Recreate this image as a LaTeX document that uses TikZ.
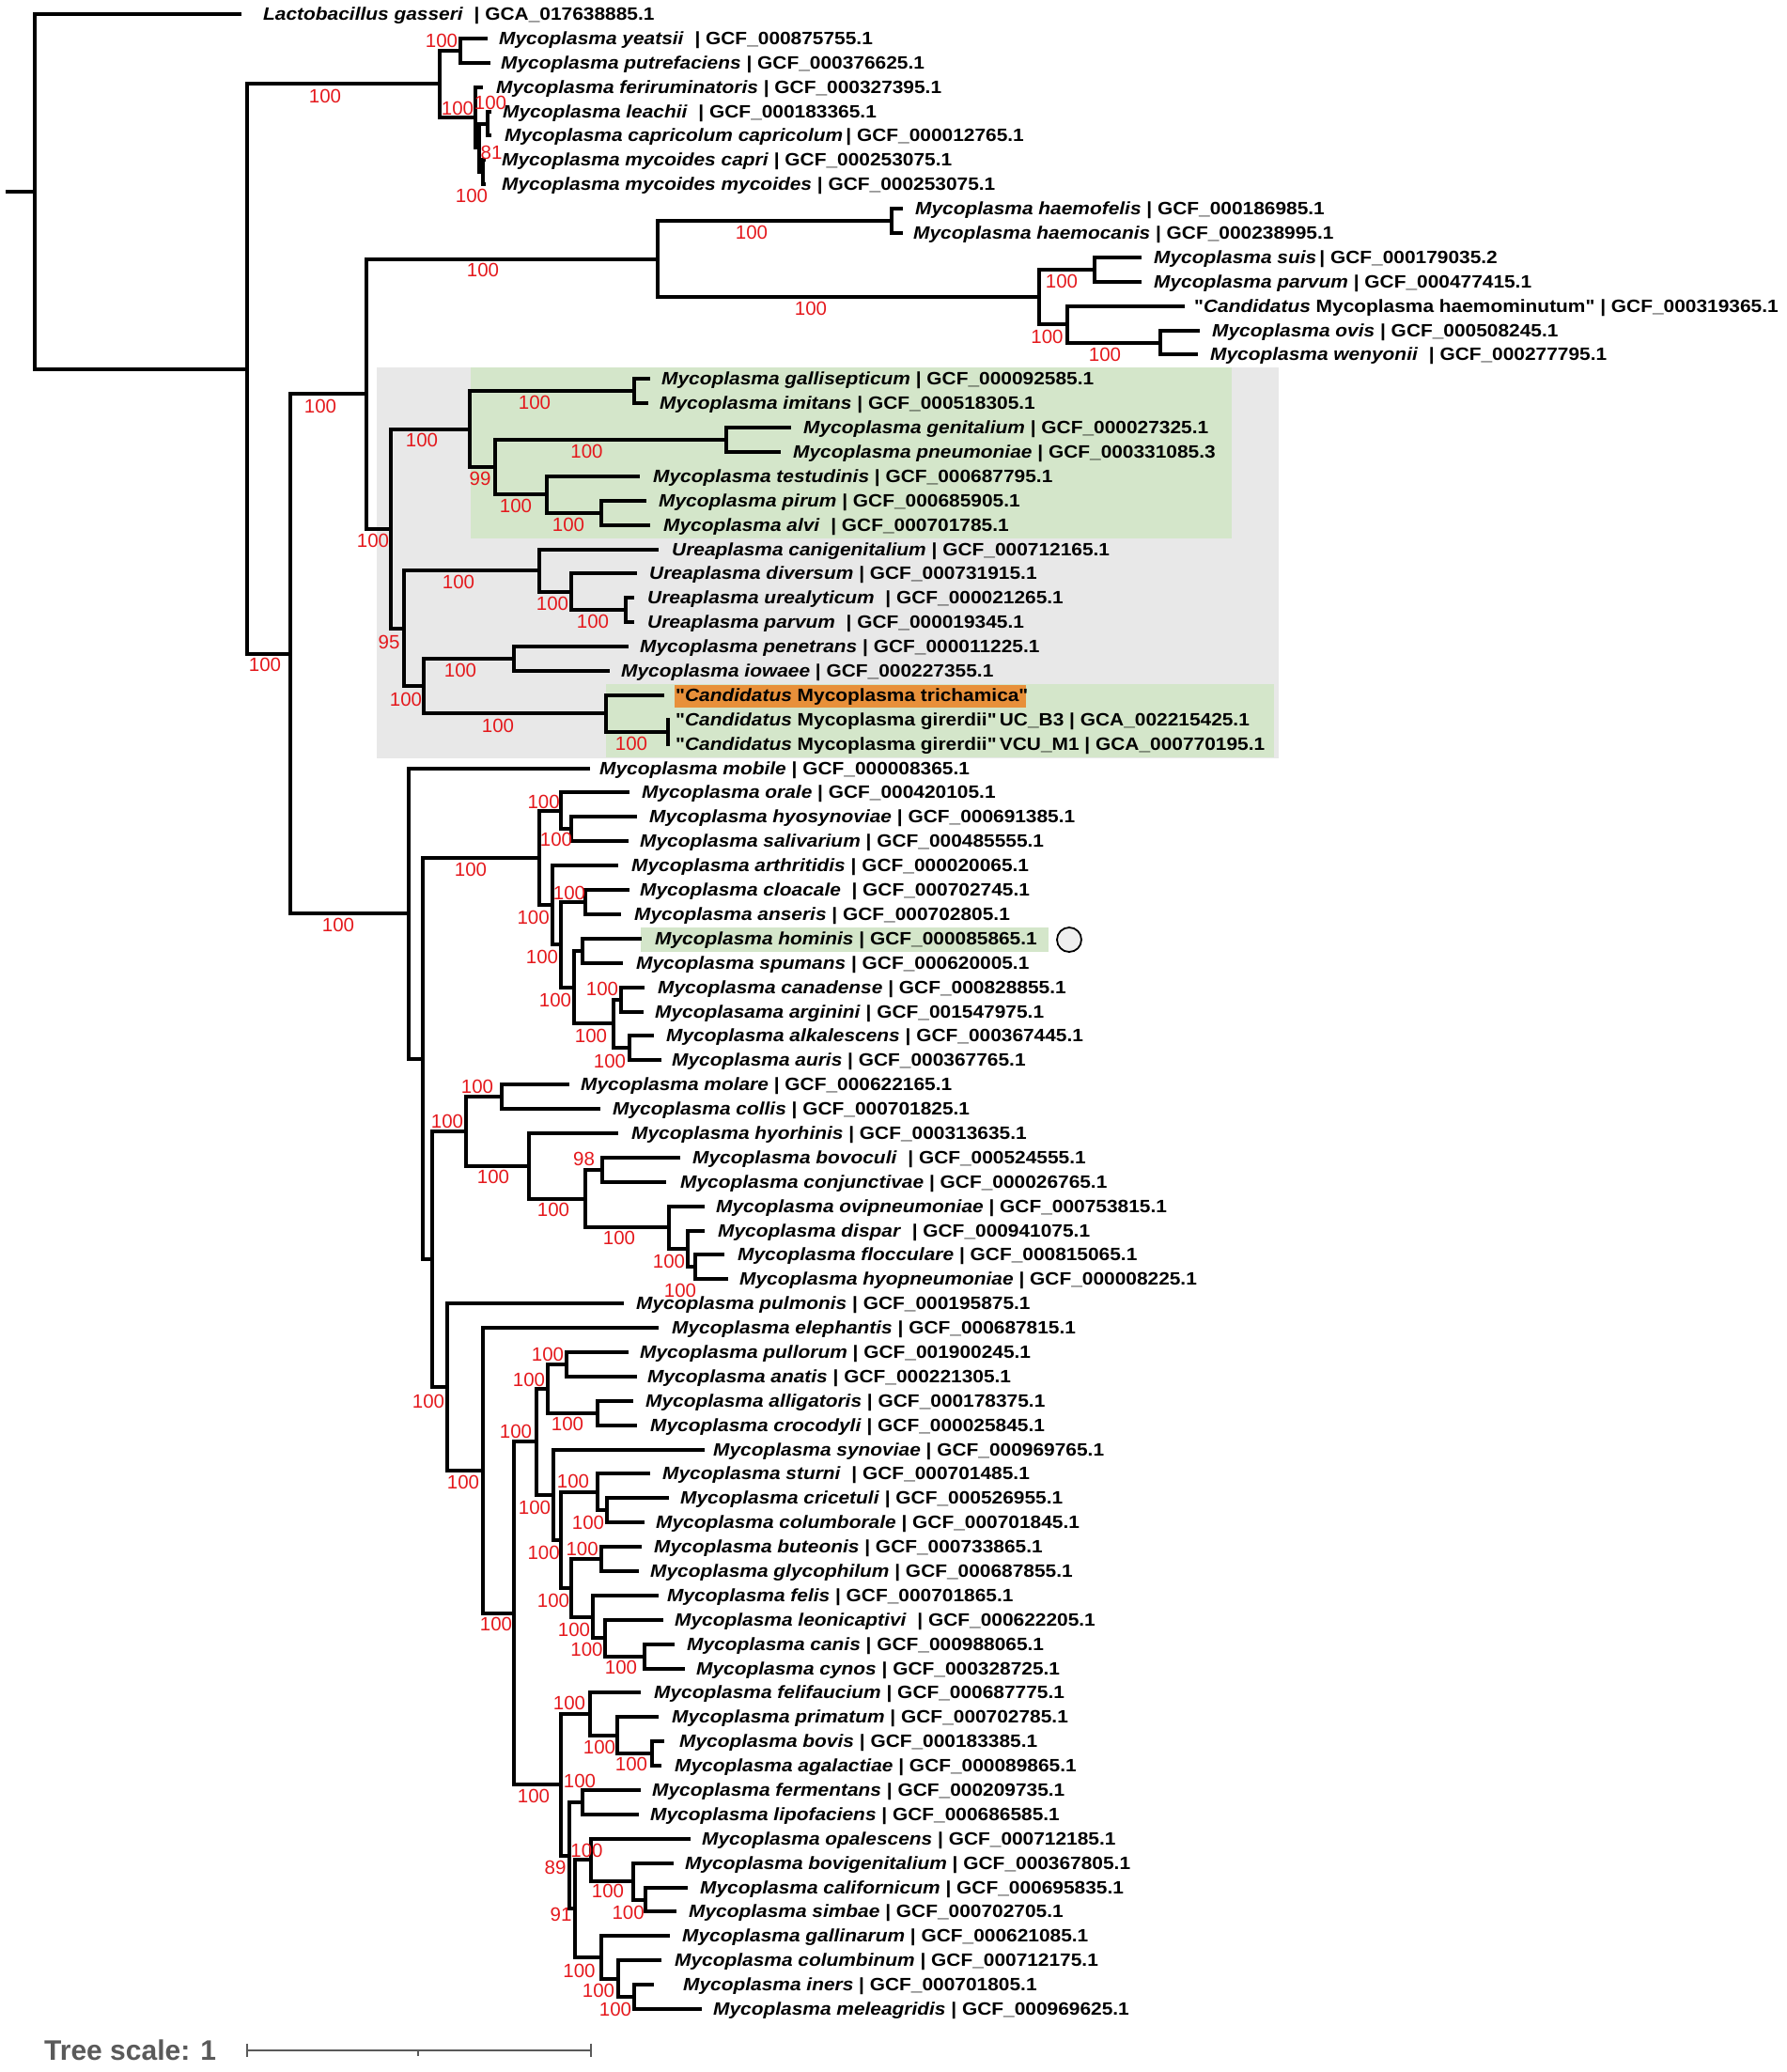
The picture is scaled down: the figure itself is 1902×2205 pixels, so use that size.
\documentclass[tikz,border=0pt]{standalone}
\usepackage{fontspec}
\setmainfont{Liberation Sans}
\newfontfamily\lf[FakeStretch=1.1]{Liberation Sans}
\usetikzlibrary{calc}
\definecolor{boxgray}{RGB}{232,232,232}
\definecolor{boxgreen}{RGB}{212,230,202}
\definecolor{boxorange}{RGB}{232,144,58}
\definecolor{bsred}{RGB}{228,24,28}
\definecolor{scgray}{RGB}{90,90,90}
\newcommand\nm[1]{\textit{#1}}
\newcommand\leaf[4]{%
  \coordinate (t#1) at (#2,{15+(#1-1)*25.89});
  \node[lab] (L#1) at (#3,{21.5+(#1-1)*25.89}) {#4};}
\newcommand\inode[4]{%
  \coordinate (tmp) at ($(#3)!0.5!(#4)$);
  \coordinate (#1) at (#2,0 |- tmp);
  \draw[br] (#1) |- (#3);
  \draw[br] (#1) |- (#4);}
\tikzset{
  br/.style={line width=4pt,black},
  lab/.style={anchor=base west,inner sep=0pt,font=\lf\bfseries\fontsize{19}{19}\selectfont},
  bsl/.style={inner sep=0pt,text=bsred,font=\fontsize{20.5}{20.5}\selectfont},
}
\begin{document}
\begin{tikzpicture}[x=1pt,y=-1pt]
\useasboundingbox (0,0) rectangle (1902,2205);
% highlight boxes
\fill[boxgray] (401,390.5) rectangle (1361,806.5);
\fill[boxgreen] (501,390.5) rectangle (1310.5,572.7);
\fill[boxgreen] (645,728.3) rectangle (1356.4,806);
\fill[boxorange] (718,729) rectangle (1092,753.3);
\fill[boxgreen] (681.5,986.7) rectangle (1116,1012.7);
\node[circle,draw=black,line width=1.8pt,fill=boxgray!70,minimum size=26pt,inner sep=0pt] (circ) at (1138,1000) {};
% leaves
\leaf{1}{257}{280}{\nm{Lactobacillus gasseri}\ \ | GCA\_017638885.1}
\leaf{2}{519}{531}{\nm{Mycoplasma yeatsii}\ \ | GCF\_000875755.1}
\leaf{3}{522}{533}{\nm{Mycoplasma putrefaciens} | GCF\_000376625.1}
\leaf{4}{514}{528}{\nm{Mycoplasma feriruminatoris} | GCF\_000327395.1}
\leaf{5}{523}{535}{\nm{Mycoplasma leachii}\ \ | GCF\_000183365.1}
\leaf{6}{523}{537}{\nm{Mycoplasma capricolum capricolum}\,| GCF\_000012765.1}
\leaf{7}{517}{534}{\nm{Mycoplasma mycoides capri} | GCF\_000253075.1}
\leaf{8}{517}{534}{\nm{Mycoplasma mycoides mycoides} | GCF\_000253075.1}
\leaf{9}{961}{974}{\nm{Mycoplasma haemofelis} | GCF\_000186985.1}
\leaf{10}{961}{972}{\nm{Mycoplasma haemocanis} | GCF\_000238995.1}
\leaf{11}{1215}{1228}{\nm{Mycoplasma suis}\,| GCF\_000179035.2}
\leaf{12}{1215}{1228}{\nm{Mycoplasma parvum} | GCF\_000477415.1}
\leaf{13}{1261}{1271}{"\nm{Candidatus} Mycoplasma haemominutum" | GCF\_000319365.1}
\leaf{14}{1277}{1290}{\nm{Mycoplasma ovis} | GCF\_000508245.1}
\leaf{15}{1275}{1288}{\nm{Mycoplasma wenyonii}\ \ | GCF\_000277795.1}
\leaf{16}{692}{704}{\nm{Mycoplasma gallisepticum} | GCF\_000092585.1}
\leaf{17}{690}{702}{\nm{Mycoplasma imitans} | GCF\_000518305.1}
\leaf{18}{842}{855}{\nm{Mycoplasma genitalium} | GCF\_000027325.1}
\leaf{19}{831}{844}{\nm{Mycoplasma pneumoniae} | GCF\_000331085.3}
\leaf{20}{681}{695}{\nm{Mycoplasma testudinis} | GCF\_000687795.1}
\leaf{21}{688}{701}{\nm{Mycoplasma pirum} | GCF\_000685905.1}
\leaf{22}{692}{706}{\nm{Mycoplasma alvi}\ \ | GCF\_000701785.1}
\leaf{23}{701}{715}{\nm{Ureaplasma canigenitalium} | GCF\_000712165.1}
\leaf{24}{678}{691}{\nm{Ureaplasma diversum} | GCF\_000731915.1}
\leaf{25}{675}{689}{\nm{Ureaplasma urealyticum}\ \ | GCF\_000021265.1}
\leaf{26}{675}{689}{\nm{Ureaplasma parvum}\ \ | GCF\_000019345.1}
\leaf{27}{669}{681}{\nm{Mycoplasma penetrans} | GCF\_000011225.1}
\leaf{28}{649}{661}{\nm{Mycoplasma iowaee} | GCF\_000227355.1}
\leaf{29}{707}{719}{"\nm{Candidatus} Mycoplasma trichamica"}
\leaf{30}{713}{719}{"\nm{Candidatus} Mycoplasma girerdii"\,UC\_B3 | GCA\_002215425.1}
\leaf{31}{713}{719}{"\nm{Candidatus} Mycoplasma girerdii"\,VCU\_M1 | GCA\_000770195.1}
\leaf{32}{628}{638}{\nm{Mycoplasma mobile} | GCF\_000008365.1}
\leaf{33}{670}{683}{\nm{Mycoplasma orale} | GCF\_000420105.1}
\leaf{34}{678}{691}{\nm{Mycoplasma hyosynoviae} | GCF\_000691385.1}
\leaf{35}{669}{681}{\nm{Mycoplasma salivarium} | GCF\_000485555.1}
\leaf{36}{658}{672}{\nm{Mycoplasma arthritidis} | GCF\_000020065.1}
\leaf{37}{670}{681}{\nm{Mycoplasma cloacale}\ \ | GCF\_000702745.1}
\leaf{38}{661}{675}{\nm{Mycoplasma anseris} | GCF\_000702805.1}
\leaf{39}{683}{697}{\nm{Mycoplasma hominis} | GCF\_000085865.1}
\leaf{40}{663}{677}{\nm{Mycoplasma spumans} | GCF\_000620005.1}
\leaf{41}{686}{700}{\nm{Mycoplasma canadense} | GCF\_000828855.1}
\leaf{42}{685}{697}{\nm{Mycoplasama arginini} | GCF\_001547975.1}
\leaf{43}{696}{709}{\nm{Mycoplasma alkalescens} | GCF\_000367445.1}
\leaf{44}{704}{715}{\nm{Mycoplasma auris} | GCF\_000367765.1}
\leaf{45}{606}{618}{\nm{Mycoplasma molare} | GCF\_000622165.1}
\leaf{46}{639}{652}{\nm{Mycoplasma collis} | GCF\_000701825.1}
\leaf{47}{658}{672}{\nm{Mycoplasma hyorhinis} | GCF\_000313635.1}
\leaf{48}{724}{737}{\nm{Mycoplasma bovoculi}\ \ | GCF\_000524555.1}
\leaf{49}{709}{724}{\nm{Mycoplasma conjunctivae} | GCF\_000026765.1}
\leaf{50}{750}{762}{\nm{Mycoplasma ovipneumoniae} | GCF\_000753815.1}
\leaf{51}{750}{764}{\nm{Mycoplasma dispar}\ \ | GCF\_000941075.1}
\leaf{52}{771}{785}{\nm{Mycoplasma flocculare} | GCF\_000815065.1}
\leaf{53}{775}{787}{\nm{Mycoplasma hyopneumoniae} | GCF\_000008225.1}
\leaf{54}{664}{677}{\nm{Mycoplasma pulmonis} | GCF\_000195875.1}
\leaf{55}{701}{715}{\nm{Mycoplasma elephantis} | GCF\_000687815.1}
\leaf{56}{669}{681}{\nm{Mycoplasma pullorum} | GCF\_001900245.1}
\leaf{57}{678}{689}{\nm{Mycoplasma anatis} | GCF\_000221305.1}
\leaf{58}{674}{687}{\nm{Mycoplasma alligatoris} | GCF\_000178375.1}
\leaf{59}{678}{692}{\nm{Mycoplasma crocodyli} | GCF\_000025845.1}
\leaf{60}{750}{759}{\nm{Mycoplasma synoviae} | GCF\_000969765.1}
\leaf{61}{692}{705}{\nm{Mycoplasma sturni}\ \ | GCF\_000701485.1}
\leaf{62}{712}{724}{\nm{Mycoplasma cricetuli} | GCF\_000526955.1}
\leaf{63}{686}{698}{\nm{Mycoplasma columborale} | GCF\_000701845.1}
\leaf{64}{683}{696}{\nm{Mycoplasma buteonis} | GCF\_000733865.1}
\leaf{65}{680}{692}{\nm{Mycoplasma glycophilum} | GCF\_000687855.1}
\leaf{66}{701}{710}{\nm{Mycoplasma felis} | GCF\_000701865.1}
\leaf{67}{706}{718}{\nm{Mycoplasma leonicaptivi}\ \ | GCF\_000622205.1}
\leaf{68}{718}{731}{\nm{Mycoplasma canis} | GCF\_000988065.1}
\leaf{69}{729}{741}{\nm{Mycoplasma cynos} | GCF\_000328725.1}
\leaf{70}{682}{696}{\nm{Mycoplasma felifaucium} | GCF\_000687775.1}
\leaf{71}{701}{715}{\nm{Mycoplasma primatum} | GCF\_000702785.1}
\leaf{72}{707}{723}{\nm{Mycoplasma bovis} | GCF\_000183385.1}
\leaf{73}{704}{718}{\nm{Mycoplasma agalactiae} | GCF\_000089865.1}
\leaf{74}{682}{694}{\nm{Mycoplasma fermentans} | GCF\_000209735.1}
\leaf{75}{680}{692}{\nm{Mycoplasma lipofaciens} | GCF\_000686585.1}
\leaf{76}{735}{747}{\nm{Mycoplasma opalescens} | GCF\_000712185.1}
\leaf{77}{717}{729}{\nm{Mycoplasma bovigenitalium} | GCF\_000367805.1}
\leaf{78}{732}{745}{\nm{Mycoplasma californicum} | GCF\_000695835.1}
\leaf{79}{720}{733}{\nm{Mycoplasma simbae} | GCF\_000702705.1}
\leaf{80}{713}{726}{\nm{Mycoplasma gallinarum} | GCF\_000621085.1}
\leaf{81}{704}{718}{\nm{Mycoplasma columbinum} | GCF\_000712175.1}
\leaf{82}{696}{727}{\nm{Mycoplasma iners} | GCF\_000701805.1}
\leaf{83}{747}{759}{\nm{Mycoplasma meleagridis} | GCF\_000969625.1}
% internal nodes
\inode{nYP}{490}{t2}{t3}
\inode{nE}{519}{t5}{t6}
\inode{nF}{514}{t7}{t8}
\inode{nD}{510}{nE}{nF}
\inode{nC}{506}{t4}{nD}
\inode{nB}{468}{nYP}{nC}
\inode{nK}{949}{t9}{t10}
\inode{nM}{1165}{t11}{t12}
\inode{nO}{1235}{t14}{t15}
\inode{nN}{1136}{t13}{nO}
\inode{nL}{1106}{nM}{nN}
\inode{nI}{700}{nK}{nL}
\inode{nR}{675}{t16}{t17}
\inode{nT}{773}{t18}{t19}
\inode{nV}{640}{t21}{t22}
\inode{nU}{582}{t20}{nV}
\inode{nS}{527}{nT}{nU}
\inode{nP}{500}{nR}{nS}
\inode{nW3}{666}{t25}{t26}
\inode{nW2}{608}{t24}{nW3}
\inode{nW}{574}{t23}{nW2}
\inode{nY}{547}{t27}{t28}
\inode{nZ2}{711}{t30}{t31}
\inode{nZ}{645}{t29}{nZ2}
\inode{nX}{451}{nY}{nZ}
\inode{nQ}{430}{nW}{nX}
\inode{nJ}{416}{nP}{nQ}
\inode{nG}{390}{nI}{nJ}
\inode{nAB2}{608}{t34}{t35}
\inode{nAB}{597}{t33}{nAB2}
\inode{nAE}{623}{t37}{t38}
\inode{nAG}{620}{t39}{t40}
\inode{nAI}{661}{t41}{t42}
\inode{nAJ}{670}{t43}{t44}
\inode{nAH}{653}{nAI}{nAJ}
\inode{nAF}{611}{nAG}{nAH}
\inode{nAD}{597}{nAE}{nAF}
\inode{nAC}{588}{t36}{nAD}
\inode{nAA}{574}{nAB}{nAC}
\inode{nCD}{534}{t45}{t46}
\inode{nCG}{641}{t48}{t49}
\inode{nCJ}{740}{t52}{t53}
\inode{nCI}{732}{t51}{nCJ}
\inode{nCH}{712}{t50}{nCI}
\inode{nCF}{623}{nCG}{nCH}
\inode{nCE}{563}{t47}{nCF}
\inode{nCC}{496}{nCD}{nCE}
\inode{nGJ}{603}{t56}{t57}
\inode{nGK}{636}{t58}{t59}
\inode{nGH}{583}{nGJ}{nGK}
\inode{nGN}{646}{t62}{t63}
\inode{nGM}{636}{t61}{nGN}
\inode{nGP}{640}{t64}{t65}
\inode{nGS}{686}{t68}{t69}
\inode{nGR}{644}{t67}{nGS}
\inode{nGQ}{631}{t66}{nGR}
\inode{nGO}{608}{nGP}{nGQ}
\inode{nGL}{597}{nGM}{nGO}
\inode{nGI}{589}{t60}{nGL}
\inode{nGG}{571}{nGH}{nGI}
\inode{nIK}{694}{t72}{t73}
\inode{nIJ}{657}{t71}{nIK}
\inode{nII}{628}{t70}{nIJ}
\inode{nKK}{620}{t74}{t75}
\inode{nMO}{687}{t78}{t79}
\inode{nMN}{674}{t77}{nMO}
\inode{nMM}{629}{t76}{nMN}
\inode{nNP}{675}{t82}{t83}
\inode{nNO}{658}{t81}{nNP}
\inode{nNN}{640}{t80}{nNO}
\inode{nLL}{612}{nMM}{nNN}
\inode{nJJ}{606}{nKK}{nLL}
\inode{nHHb}{597}{nII}{nJJ}
\inode{nFF}{547}{nGG}{nHHb}
\inode{nEE}{514}{t55}{nFF}
\inode{nDD}{476}{t54}{nEE}
\inode{nBB}{460}{nCC}{nDD}
\inode{nHH}{450}{nAA}{nBB}
\inode{nH}{435}{t32}{nHH}
\inode{nA2}{309}{nG}{nH}
\inode{nA}{263}{nB}{nA2}
\inode{nRoot}{37}{t1}{nA}
\coordinate (stub) at (6,0 |- nRoot);
\draw[br] (stub) -- (nRoot);
% bootstrap values
\foreach \x/\y/\t [count=\i] in {470/43/100,346/102/100,487/115/100,522/109/100,523/162/81,502/208/100,800/247/100,514/287/100,863/328/100,1130/299/100,1114.5/358/100,1176/377/100,
341/432/100,569/428/100,449/468/100,624.5/480/100,511/509/99,549/538/100,605/558/100,397/575/100,488/619/100,588/642/100,631/661/100,414/683/95,282/707/100,490/713/100,432/744/100,530/772/100,672/791/100,
578.6/853/100,592/893/100,501/925/100,606/950/100,567.6/976/100,360/984/100,577/1018/100,641/1052/100,591/1064/100,629/1102/100,649/1129/100,508/1156/100,476/1193/100,
621.5/1233/98,525/1252/100,589/1287/100,659/1317/100,712/1342/100,724/1373/100,583/1441/100,563/1468/100,456/1491/100,604/1515/100,549/1523/100,493/1577/100,610/1576/100,569/1604/100,
626/1620/100,578.6/1652/100,619.6/1648/100,528/1728/100,589/1703/100,611/1734/100,624.5/1755/100,661/1774/100,606/1812/100,638/1859/100,672/1877/100,617/1895/100,568/1911/100,624.5/1969/100,591/1987/89,647/2012/100,668.6/2035/100,597/2037/91,616.5/2097/100,637/2118/100,655/2138/100}
  \node[bsl] (b\i) at (\x,\y) {\t};
% scale bar
\node[anchor=west,inner sep=0pt,text=scgray,font=\bfseries\fontsize{30}{30}\selectfont] (ts) at (47,2181.7) {Tree scale: 1};
\coordinate (s0) at (263,2181.7);
\coordinate (s1) at (629,2181.7);
\coordinate (sm) at (445,2181.7);
\draw[scgray,line width=2pt] (s0) -- (s1);
\draw[scgray,line width=2pt] ($(s0)+(0,-7)$) -- ($(s0)+(0,7)$);
\draw[scgray,line width=2pt] ($(s1)+(0,-7)$) -- ($(s1)+(0,7)$);
\draw[scgray,line width=2pt] (sm) -- ($(sm)+(0,6)$);
\end{tikzpicture}
\end{document}
